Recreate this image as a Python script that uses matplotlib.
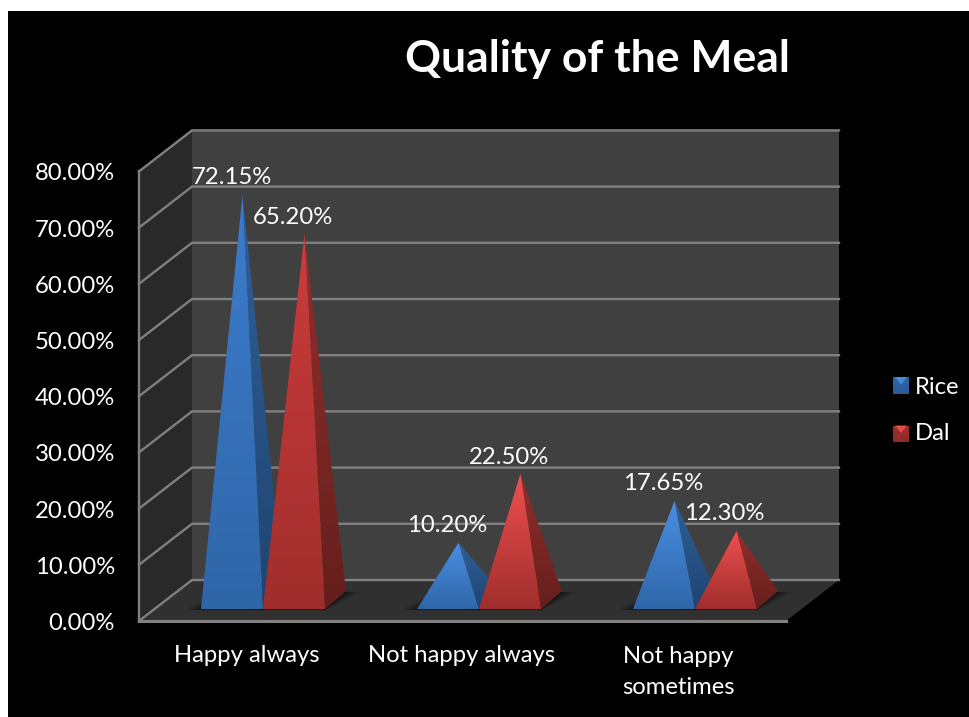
import matplotlib
matplotlib.use('Agg')
import matplotlib.pyplot as plt
import numpy as np
from matplotlib.colors import LinearSegmentedColormap
from matplotlib.patches import Polygon, Rectangle

categories = ['Happy always', 'Not happy always', 'Not happy\nsometimes']
rice = [72.15, 10.20, 17.65]
dal = [65.20, 22.50, 12.30]
y_ticks = [0, 10, 20, 30, 40, 50, 60, 70, 80]

W, H = 970, 717
FRONT_X, FRONT_X2, FRONT_Y = 139, 786, 621
DX, DY = 53, -41          # depth of the 3d box
PX_PER_PCT = 5.62
BASE_Y = 609              # front edge of the pyramids on the floor
BAR_W = 62
BAR_DX, BAR_DY = 21, -18  # depth of a pyramid base
GROUP_X = [201, 417, 633]
FS = 17.2

plt.rcParams['font.family'] = ['Lato', 'DejaVu Sans']

fig = plt.figure(figsize=(W / 100, H / 100), dpi=100, facecolor='black')
ax = fig.add_axes([0, 0, 1, 1])
ax.axis('off')


def val_y(v):
    return FRONT_Y - v * PX_PER_PCT


def grad_poly(pts, top, bottom, z=5):
    # polygon filled with a vertical gradient
    cmap = LinearSegmentedColormap.from_list('g', [top, bottom])
    pts = np.array(pts)
    x0, x1 = pts[:, 0].min(), pts[:, 0].max()
    y0, y1 = pts[:, 1].min(), pts[:, 1].max()
    im = ax.imshow(np.linspace(0, 1, 256).reshape(-1, 1), cmap=cmap, aspect='auto',
                   extent=(x0, x1, y1, y0), zorder=z, interpolation='bilinear')
    clip = Polygon(pts, closed=True, transform=ax.transData, fc='none', ec='none')
    ax.add_patch(clip)
    im.set_clip_path(clip)


def pyramid(x, v, front, side, z):
    # apex sits above the middle of the base
    apex = (x + BAR_W / 2 + BAR_DX / 2, BASE_Y + BAR_DY / 2 - v * PX_PER_PCT)
    bl, br = (x, BASE_Y), (x + BAR_W, BASE_Y)
    back = (x + BAR_W + BAR_DX, BASE_Y + BAR_DY)
    # soft shadow on the floor
    for grow, a in [(16, 0.12), (10, 0.18), (5, 0.25)]:
        ax.add_patch(Polygon([(x - grow, BASE_Y + 1), (x + BAR_W, BASE_Y + 1),
                              (back[0] + grow, back[1] + 1), (x + BAR_DX, BASE_Y + BAR_DY)],
                             closed=True, fc='black', ec='none', alpha=a, zorder=2))
    grad_poly([br, back, apex], side[0], side[1], z=z)
    grad_poly([bl, br, apex], front[0], front[1], z=z + 1)


# box walls and floor
left_wall = [(FRONT_X, FRONT_Y), (FRONT_X + DX, FRONT_Y + DY),
             (FRONT_X + DX, val_y(80) + DY), (FRONT_X, val_y(80))]
back_wall = [(FRONT_X + DX, FRONT_Y + DY), (FRONT_X2 + DX, FRONT_Y + DY),
             (FRONT_X2 + DX, val_y(80) + DY), (FRONT_X + DX, val_y(80) + DY)]
floor = [(FRONT_X, FRONT_Y), (FRONT_X2, FRONT_Y),
         (FRONT_X2 + DX, FRONT_Y + DY), (FRONT_X + DX, FRONT_Y + DY)]
ax.add_patch(Polygon(back_wall, closed=True, fc='#404040', ec='none', zorder=1))
ax.add_patch(Polygon(left_wall, closed=True, fc='#292929', ec='none', zorder=1))
ax.add_patch(Polygon(floor, closed=True, fc='#303030', ec='none', zorder=1))

grid = '#808080'
for t in y_ticks:
    y = val_y(t)
    ax.plot([FRONT_X, FRONT_X + DX, FRONT_X2 + DX], [y, y + DY, y + DY],
            color=grid, lw=1.7, zorder=1.5, solid_joinstyle='miter')
    ax.text(115, y + 2.5, '%.2f%%' % t, color='white', fontsize=FS,
            ha='right', va='center', zorder=10)
ax.plot([FRONT_X, FRONT_X], [val_y(0), val_y(80)], color=grid, lw=1.7, zorder=1.5)
ax.plot([FRONT_X, FRONT_X2], [FRONT_Y, FRONT_Y], color=grid, lw=2.2, zorder=1.5)

blue_f = ('#4a8fe3', '#2f66a8')
blue_s = ('#2f6099', '#1f4470')
red_f = ('#f05050', '#a02e2c')
red_s = ('#92302c', '#651e1c')
blue_tall = ('#3d7ccd', '#2f66a8')
red_tall = ('#cc3c3c', '#a02e2c')

for i, gx in enumerate(GROUP_X):
    pyramid(gx, rice[i], blue_tall if rice[i] > 50 else blue_f, blue_s, 5)
    pyramid(gx + BAR_W, dal[i], red_tall if dal[i] > 50 else red_f, red_s, 7)

# data labels
rice_lab = [(232, 178), (447, 526), (663, 484)]
dal_lab = [(293, 217), (509, 457), (724, 514)]
for i in range(3):
    ax.text(*rice_lab[i], '%.2f%%' % rice[i], color='white', fontsize=FS,
            ha='center', va='center', zorder=12)
    ax.text(*dal_lab[i], '%.2f%%' % dal[i], color='white', fontsize=FS,
            ha='center', va='center', zorder=12)

# category labels
ax.text(247, 656, categories[0], color='white', fontsize=FS, ha='center', va='center')
ax.text(462, 656, categories[1], color='white', fontsize=FS, ha='center', va='center')
ax.text(678, 672, categories[2], color='white', fontsize=FS, ha='center', va='center',
        linespacing=1.6)

# legend keys are tiny pyramids seen from above
for (name, ty, ky, col, edge) in [('Rice', 387, 385.5, blue_f, '#2a5a96'),
                                  ('Dal', 434, 434, red_f, '#8e2b29')]:
    grad_poly([(893, ky - 8.5), (909, ky - 8.5), (909, ky + 8.5), (893, ky + 8.5)],
              col[1], edge, z=5)
    ax.add_patch(Polygon([(895, ky - 8.5), (907, ky - 8.5), (901, ky - 1)], closed=True,
                         fc=col[0], ec='none', alpha=0.9, zorder=6))
    ax.text(915, ty, name, color='white', fontsize=FS, ha='left', va='center')

ax.text(597, 59, 'Quality of the Meal', color='white', fontsize=32, fontweight='bold',
        ha='center', va='center')

# white strips along the top and left edges
ax.add_patch(Rectangle((0, 0), W, 10.5, fc='white', ec='none', zorder=20))
ax.add_patch(Rectangle((0, 0), 8, H, fc='white', ec='none', zorder=20))

ax.set_xlim(0, W)
ax.set_ylim(H, 0)
fig.savefig('out.png', dpi=100, facecolor='black')
